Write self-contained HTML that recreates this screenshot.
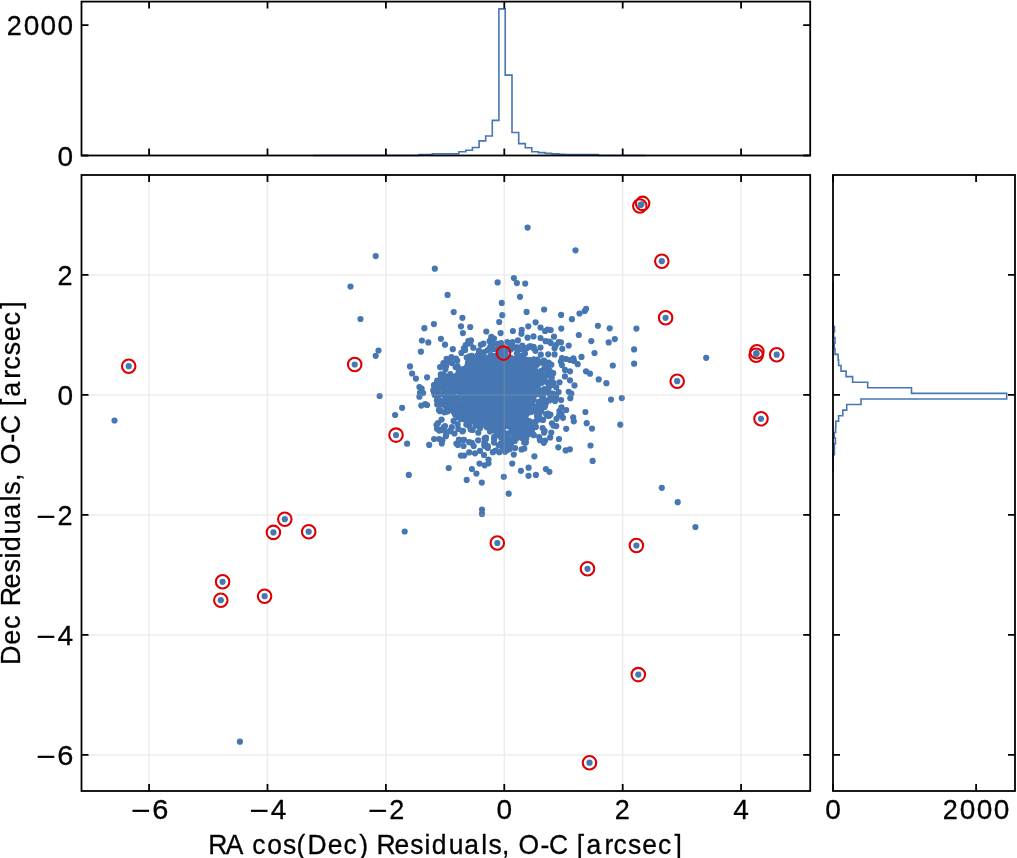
<!DOCTYPE html><html><head><meta charset="utf-8"><style>html,body{margin:0;padding:0;background:#fff;}body{width:1017px;height:858px;overflow:hidden;}</style></head><body><svg width="1017" height="858" viewBox="0 0 1017 858" style="display:block;font-family:'Liberation Sans', sans-serif">
<rect width="1017" height="858" fill="#fff"/>
<g fill="#4677b2"><circle cx="453.5" cy="395.9" r="3.1"/><circle cx="511.7" cy="429.7" r="3.1"/><circle cx="433.3" cy="390.2" r="3.1"/><circle cx="539.1" cy="419.4" r="3.1"/><circle cx="540.0" cy="380.9" r="3.1"/><circle cx="548.3" cy="390.9" r="3.1"/><circle cx="438.9" cy="410.0" r="3.1"/><circle cx="440.8" cy="374.4" r="3.1"/><circle cx="446.5" cy="411.7" r="3.1"/><circle cx="444.6" cy="385.0" r="3.1"/><circle cx="456.9" cy="381.8" r="3.1"/><circle cx="541.0" cy="411.5" r="3.1"/><circle cx="441.2" cy="404.4" r="3.1"/><circle cx="461.1" cy="406.7" r="3.1"/><circle cx="504.4" cy="438.5" r="3.1"/><circle cx="544.6" cy="406.9" r="3.1"/><circle cx="460.5" cy="419.0" r="3.1"/><circle cx="502.5" cy="436.8" r="3.1"/><circle cx="452.4" cy="378.8" r="3.1"/><circle cx="504.1" cy="350.3" r="3.1"/><circle cx="439.2" cy="400.0" r="3.1"/><circle cx="525.7" cy="442.5" r="3.1"/><circle cx="525.7" cy="418.9" r="3.1"/><circle cx="542.2" cy="403.2" r="3.1"/><circle cx="439.9" cy="411.2" r="3.1"/><circle cx="509.7" cy="445.0" r="3.1"/><circle cx="468.7" cy="415.9" r="3.1"/><circle cx="547.7" cy="413.7" r="3.1"/><circle cx="455.3" cy="386.2" r="3.1"/><circle cx="544.4" cy="380.6" r="3.1"/><circle cx="447.2" cy="394.1" r="3.1"/><circle cx="457.4" cy="384.2" r="3.1"/><circle cx="537.8" cy="363.0" r="3.1"/><circle cx="518.8" cy="358.4" r="3.1"/><circle cx="491.5" cy="355.9" r="3.1"/><circle cx="446.4" cy="388.9" r="3.1"/><circle cx="511.1" cy="443.7" r="3.1"/><circle cx="523.7" cy="432.7" r="3.1"/><circle cx="499.5" cy="429.4" r="3.1"/><circle cx="541.2" cy="376.3" r="3.1"/><circle cx="440.2" cy="387.4" r="3.1"/><circle cx="501.3" cy="426.7" r="3.1"/><circle cx="539.1" cy="417.2" r="3.1"/><circle cx="552.9" cy="393.6" r="3.1"/><circle cx="458.3" cy="397.7" r="3.1"/><circle cx="539.6" cy="401.7" r="3.1"/><circle cx="555.9" cy="397.4" r="3.1"/><circle cx="504.2" cy="358.6" r="3.1"/><circle cx="556.0" cy="396.4" r="3.1"/><circle cx="446.0" cy="386.5" r="3.1"/><circle cx="454.4" cy="408.6" r="3.1"/><circle cx="445.4" cy="395.8" r="3.1"/><circle cx="498.5" cy="353.7" r="3.1"/><circle cx="456.1" cy="410.3" r="3.1"/><circle cx="540.6" cy="407.9" r="3.1"/><circle cx="541.3" cy="362.4" r="3.1"/><circle cx="526.1" cy="431.8" r="3.1"/><circle cx="547.3" cy="372.4" r="3.1"/><circle cx="538.1" cy="385.1" r="3.1"/><circle cx="503.7" cy="352.1" r="3.1"/><circle cx="489.7" cy="426.3" r="3.1"/><circle cx="521.0" cy="435.8" r="3.1"/><circle cx="453.1" cy="389.0" r="3.1"/><circle cx="521.4" cy="437.8" r="3.1"/><circle cx="526.6" cy="427.9" r="3.1"/><circle cx="535.8" cy="383.2" r="3.1"/><circle cx="520.1" cy="426.6" r="3.1"/><circle cx="521.0" cy="425.9" r="3.1"/><circle cx="450.3" cy="391.1" r="3.1"/><circle cx="451.5" cy="394.0" r="3.1"/><circle cx="552.9" cy="385.0" r="3.1"/><circle cx="466.4" cy="420.5" r="3.1"/><circle cx="508.2" cy="348.3" r="3.1"/><circle cx="498.4" cy="349.4" r="3.1"/><circle cx="531.8" cy="409.5" r="3.1"/><circle cx="510.8" cy="346.8" r="3.1"/><circle cx="456.9" cy="375.7" r="3.1"/><circle cx="526.7" cy="435.1" r="3.1"/><circle cx="535.1" cy="409.3" r="3.1"/><circle cx="529.8" cy="360.1" r="3.1"/><circle cx="535.2" cy="378.8" r="3.1"/><circle cx="457.3" cy="414.0" r="3.1"/><circle cx="524.1" cy="417.8" r="3.1"/><circle cx="476.1" cy="421.6" r="3.1"/><circle cx="548.7" cy="387.1" r="3.1"/><circle cx="461.8" cy="377.9" r="3.1"/><circle cx="454.9" cy="402.2" r="3.1"/><circle cx="533.5" cy="399.4" r="3.1"/><circle cx="538.6" cy="402.0" r="3.1"/><circle cx="544.4" cy="368.3" r="3.1"/><circle cx="500.8" cy="429.1" r="3.1"/><circle cx="525.7" cy="442.4" r="3.1"/><circle cx="440.5" cy="410.6" r="3.1"/><circle cx="497.5" cy="426.3" r="3.1"/><circle cx="523.6" cy="419.5" r="3.1"/><circle cx="548.9" cy="383.8" r="3.1"/><circle cx="537.3" cy="414.5" r="3.1"/><circle cx="484.3" cy="352.0" r="3.1"/><circle cx="478.4" cy="354.6" r="3.1"/><circle cx="456.1" cy="385.5" r="3.1"/><circle cx="444.4" cy="412.3" r="3.1"/><circle cx="437.5" cy="389.6" r="3.1"/><circle cx="505.7" cy="443.6" r="3.1"/><circle cx="536.1" cy="392.0" r="3.1"/><circle cx="548.8" cy="375.5" r="3.1"/><circle cx="542.9" cy="396.4" r="3.1"/><circle cx="541.4" cy="370.9" r="3.1"/><circle cx="537.3" cy="359.5" r="3.1"/><circle cx="443.2" cy="381.8" r="3.1"/><circle cx="537.8" cy="413.0" r="3.1"/><circle cx="533.8" cy="359.3" r="3.1"/><circle cx="452.9" cy="382.8" r="3.1"/><circle cx="538.7" cy="405.6" r="3.1"/><circle cx="549.6" cy="385.7" r="3.1"/><circle cx="529.6" cy="433.0" r="3.1"/><circle cx="443.3" cy="379.8" r="3.1"/><circle cx="495.9" cy="429.1" r="3.1"/><circle cx="537.2" cy="407.9" r="3.1"/><circle cx="547.3" cy="400.3" r="3.1"/><circle cx="522.8" cy="434.8" r="3.1"/><circle cx="511.3" cy="358.2" r="3.1"/><circle cx="536.2" cy="406.7" r="3.1"/><circle cx="460.9" cy="403.3" r="3.1"/><circle cx="455.5" cy="390.7" r="3.1"/><circle cx="448.1" cy="380.9" r="3.1"/><circle cx="503.8" cy="355.3" r="3.1"/><circle cx="528.4" cy="424.7" r="3.1"/><circle cx="503.3" cy="443.1" r="3.1"/><circle cx="524.2" cy="442.5" r="3.1"/><circle cx="445.7" cy="388.1" r="3.1"/><circle cx="516.3" cy="438.5" r="3.1"/><circle cx="503.4" cy="442.9" r="3.1"/><circle cx="445.6" cy="399.0" r="3.1"/><circle cx="461.3" cy="370.4" r="3.1"/><circle cx="538.8" cy="377.0" r="3.1"/><circle cx="491.1" cy="355.1" r="3.1"/><circle cx="455.8" cy="410.4" r="3.1"/><circle cx="458.6" cy="371.4" r="3.1"/><circle cx="522.2" cy="358.1" r="3.1"/><circle cx="516.2" cy="429.4" r="3.1"/><circle cx="544.9" cy="405.3" r="3.1"/><circle cx="459.3" cy="370.6" r="3.1"/><circle cx="550.4" cy="414.5" r="3.1"/><circle cx="465.6" cy="411.3" r="3.1"/><circle cx="494.7" cy="356.1" r="3.1"/><circle cx="486.9" cy="427.3" r="3.1"/><circle cx="532.1" cy="429.4" r="3.1"/><circle cx="460.2" cy="393.2" r="3.1"/><circle cx="458.3" cy="404.1" r="3.1"/><circle cx="504.2" cy="439.2" r="3.1"/><circle cx="532.8" cy="363.1" r="3.1"/><circle cx="464.0" cy="405.1" r="3.1"/><circle cx="437.4" cy="383.8" r="3.1"/><circle cx="493.3" cy="425.9" r="3.1"/><circle cx="529.1" cy="422.6" r="3.1"/><circle cx="542.3" cy="405.4" r="3.1"/><circle cx="545.2" cy="390.0" r="3.1"/><circle cx="457.5" cy="376.2" r="3.1"/><circle cx="453.4" cy="400.4" r="3.1"/><circle cx="457.4" cy="390.6" r="3.1"/><circle cx="551.7" cy="377.7" r="3.1"/><circle cx="529.4" cy="421.3" r="3.1"/><circle cx="500.4" cy="350.8" r="3.1"/><circle cx="466.0" cy="420.0" r="3.1"/><circle cx="542.5" cy="361.6" r="3.1"/><circle cx="503.3" cy="431.6" r="3.1"/><circle cx="457.6" cy="417.2" r="3.1"/><circle cx="542.8" cy="362.7" r="3.1"/><circle cx="512.0" cy="345.3" r="3.1"/><circle cx="437.2" cy="380.5" r="3.1"/><circle cx="449.1" cy="404.4" r="3.1"/><circle cx="437.6" cy="383.0" r="3.1"/><circle cx="436.5" cy="394.0" r="3.1"/><circle cx="545.9" cy="402.4" r="3.1"/><circle cx="463.6" cy="414.7" r="3.1"/><circle cx="453.7" cy="390.8" r="3.1"/><circle cx="509.8" cy="449.1" r="3.1"/><circle cx="544.3" cy="380.3" r="3.1"/><circle cx="447.1" cy="395.3" r="3.1"/><circle cx="502.6" cy="434.2" r="3.1"/><circle cx="470.3" cy="420.4" r="3.1"/><circle cx="450.2" cy="409.1" r="3.1"/><circle cx="471.8" cy="355.8" r="3.1"/><circle cx="496.5" cy="349.6" r="3.1"/><circle cx="444.1" cy="388.7" r="3.1"/><circle cx="445.8" cy="379.7" r="3.1"/><circle cx="505.9" cy="447.4" r="3.1"/><circle cx="533.9" cy="435.1" r="3.1"/><circle cx="510.1" cy="426.3" r="3.1"/><circle cx="551.3" cy="364.7" r="3.1"/><circle cx="493.2" cy="348.9" r="3.1"/><circle cx="503.3" cy="351.7" r="3.1"/><circle cx="459.1" cy="392.4" r="3.1"/><circle cx="546.0" cy="371.6" r="3.1"/><circle cx="436.9" cy="400.6" r="3.1"/><circle cx="476.3" cy="424.9" r="3.1"/><circle cx="498.3" cy="431.7" r="3.1"/><circle cx="532.9" cy="422.7" r="3.1"/><circle cx="553.5" cy="382.8" r="3.1"/><circle cx="515.2" cy="431.8" r="3.1"/><circle cx="547.6" cy="373.1" r="3.1"/><circle cx="441.7" cy="374.7" r="3.1"/><circle cx="526.3" cy="359.9" r="3.1"/><circle cx="518.2" cy="355.8" r="3.1"/><circle cx="458.1" cy="383.5" r="3.1"/><circle cx="521.6" cy="355.8" r="3.1"/><circle cx="465.1" cy="415.8" r="3.1"/><circle cx="553.2" cy="373.2" r="3.1"/><circle cx="453.4" cy="377.4" r="3.1"/><circle cx="509.9" cy="441.0" r="3.1"/><circle cx="541.2" cy="409.9" r="3.1"/><circle cx="539.1" cy="412.4" r="3.1"/><circle cx="543.0" cy="419.9" r="3.1"/><circle cx="465.9" cy="411.7" r="3.1"/><circle cx="439.0" cy="401.1" r="3.1"/><circle cx="501.1" cy="443.2" r="3.1"/><circle cx="510.0" cy="442.7" r="3.1"/><circle cx="456.4" cy="410.0" r="3.1"/><circle cx="455.1" cy="414.7" r="3.1"/><circle cx="476.1" cy="358.0" r="3.1"/><circle cx="448.5" cy="410.2" r="3.1"/><circle cx="460.1" cy="404.0" r="3.1"/><circle cx="551.3" cy="381.0" r="3.1"/><circle cx="467.7" cy="417.9" r="3.1"/><circle cx="546.3" cy="364.7" r="3.1"/><circle cx="440.9" cy="378.1" r="3.1"/><circle cx="537.6" cy="412.5" r="3.1"/><circle cx="438.1" cy="390.0" r="3.1"/><circle cx="456.8" cy="378.9" r="3.1"/><circle cx="448.1" cy="381.9" r="3.1"/><circle cx="524.9" cy="427.6" r="3.1"/><circle cx="445.0" cy="390.7" r="3.1"/><circle cx="445.7" cy="402.6" r="3.1"/><circle cx="457.8" cy="388.7" r="3.1"/><circle cx="556.1" cy="397.5" r="3.1"/><circle cx="525.3" cy="420.0" r="3.1"/><circle cx="449.8" cy="398.2" r="3.1"/><circle cx="513.4" cy="436.2" r="3.1"/><circle cx="435.4" cy="384.4" r="3.1"/><circle cx="514.8" cy="440.9" r="3.1"/><circle cx="437.5" cy="397.8" r="3.1"/><circle cx="506.9" cy="449.8" r="3.1"/><circle cx="541.7" cy="382.8" r="3.1"/><circle cx="466.7" cy="416.1" r="3.1"/><circle cx="538.0" cy="373.9" r="3.1"/><circle cx="532.4" cy="411.6" r="3.1"/><circle cx="501.5" cy="445.8" r="3.1"/><circle cx="502.6" cy="445.2" r="3.1"/><circle cx="457.0" cy="384.3" r="3.1"/><circle cx="499.4" cy="435.2" r="3.1"/><circle cx="480.1" cy="427.9" r="3.1"/><circle cx="451.1" cy="404.8" r="3.1"/><circle cx="455.8" cy="376.1" r="3.1"/><circle cx="450.8" cy="376.5" r="3.1"/><circle cx="539.4" cy="377.5" r="3.1"/><circle cx="548.2" cy="389.2" r="3.1"/><circle cx="531.8" cy="360.7" r="3.1"/><circle cx="455.4" cy="398.7" r="3.1"/><circle cx="509.0" cy="349.0" r="3.1"/><circle cx="467.7" cy="364.8" r="3.1"/><circle cx="446.6" cy="392.7" r="3.1"/><circle cx="465.0" cy="368.7" r="3.1"/><circle cx="459.9" cy="388.8" r="3.1"/><circle cx="552.6" cy="395.2" r="3.1"/><circle cx="503.2" cy="348.9" r="3.1"/><circle cx="497.5" cy="343.8" r="3.1"/><circle cx="498.2" cy="356.6" r="3.1"/><circle cx="494.6" cy="358.2" r="3.1"/><circle cx="492.9" cy="343.9" r="3.1"/><circle cx="537.8" cy="417.1" r="3.1"/><circle cx="528.3" cy="431.4" r="3.1"/><circle cx="538.2" cy="383.4" r="3.1"/><circle cx="463.7" cy="404.8" r="3.1"/><circle cx="460.5" cy="413.0" r="3.1"/><circle cx="532.5" cy="428.4" r="3.1"/><circle cx="469.5" cy="356.4" r="3.1"/><circle cx="445.4" cy="397.7" r="3.1"/><circle cx="550.1" cy="395.0" r="3.1"/><circle cx="450.3" cy="374.2" r="3.1"/><circle cx="539.9" cy="390.3" r="3.1"/><circle cx="490.1" cy="356.4" r="3.1"/><circle cx="544.8" cy="404.2" r="3.1"/><circle cx="548.7" cy="362.5" r="3.1"/><circle cx="505.6" cy="353.4" r="3.1"/><circle cx="441.1" cy="394.2" r="3.1"/><circle cx="533.9" cy="362.6" r="3.1"/><circle cx="518.9" cy="430.2" r="3.1"/><circle cx="522.3" cy="431.7" r="3.1"/><circle cx="535.8" cy="370.9" r="3.1"/><circle cx="509.1" cy="443.8" r="3.1"/><circle cx="543.2" cy="371.8" r="3.1"/><circle cx="510.7" cy="349.5" r="3.1"/><circle cx="503.7" cy="447.7" r="3.1"/><circle cx="533.3" cy="361.9" r="3.1"/><circle cx="514.8" cy="427.5" r="3.1"/><circle cx="453.9" cy="412.2" r="3.1"/><circle cx="548.4" cy="369.4" r="3.1"/><circle cx="455.4" cy="404.2" r="3.1"/><circle cx="460.9" cy="373.8" r="3.1"/><circle cx="460.1" cy="391.4" r="3.1"/><circle cx="547.3" cy="364.6" r="3.1"/><circle cx="498.3" cy="357.2" r="3.1"/><circle cx="449.0" cy="400.7" r="3.1"/><circle cx="529.6" cy="412.2" r="3.1"/><circle cx="446.1" cy="385.6" r="3.1"/><circle cx="438.9" cy="381.4" r="3.1"/><circle cx="490.6" cy="347.2" r="3.1"/><circle cx="544.3" cy="389.1" r="3.1"/><circle cx="437.2" cy="404.5" r="3.1"/><circle cx="522.4" cy="425.9" r="3.1"/><circle cx="462.3" cy="419.1" r="3.1"/><circle cx="451.2" cy="409.6" r="3.1"/><circle cx="546.1" cy="414.1" r="3.1"/><circle cx="475.5" cy="425.6" r="3.1"/><circle cx="537.6" cy="380.1" r="3.1"/><circle cx="533.1" cy="423.2" r="3.1"/><circle cx="544.1" cy="360.7" r="3.1"/><circle cx="458.5" cy="408.9" r="3.1"/><circle cx="548.9" cy="415.7" r="3.1"/><circle cx="451.8" cy="377.1" r="3.1"/><circle cx="459.0" cy="378.2" r="3.1"/><circle cx="507.8" cy="438.0" r="3.1"/><circle cx="461.9" cy="369.6" r="3.1"/><circle cx="539.9" cy="390.8" r="3.1"/><circle cx="533.4" cy="408.9" r="3.1"/><circle cx="466.7" cy="357.5" r="3.1"/><circle cx="542.0" cy="396.5" r="3.1"/><circle cx="448.8" cy="381.2" r="3.1"/><circle cx="512.9" cy="347.8" r="3.1"/><circle cx="502.9" cy="447.2" r="3.1"/><circle cx="486.3" cy="426.0" r="3.1"/><circle cx="452.0" cy="390.2" r="3.1"/><circle cx="547.0" cy="415.4" r="3.1"/><circle cx="457.7" cy="388.1" r="3.1"/><circle cx="502.4" cy="346.7" r="3.1"/><circle cx="535.8" cy="421.4" r="3.1"/><circle cx="537.0" cy="364.8" r="3.1"/><circle cx="522.8" cy="356.7" r="3.1"/><circle cx="549.2" cy="415.4" r="3.1"/><circle cx="460.4" cy="369.3" r="3.1"/><circle cx="539.7" cy="418.6" r="3.1"/><circle cx="437.1" cy="393.5" r="3.1"/><circle cx="506.8" cy="444.3" r="3.1"/><circle cx="453.0" cy="394.5" r="3.1"/><circle cx="494.7" cy="426.4" r="3.1"/><circle cx="528.8" cy="421.2" r="3.1"/><circle cx="543.9" cy="380.2" r="3.1"/><circle cx="539.9" cy="406.7" r="3.1"/><circle cx="455.6" cy="411.3" r="3.1"/><circle cx="448.9" cy="402.7" r="3.1"/><circle cx="491.3" cy="339.3" r="3.1"/><circle cx="509.7" cy="357.7" r="3.1"/><circle cx="545.3" cy="405.0" r="3.1"/><circle cx="527.4" cy="428.6" r="3.1"/><circle cx="453.7" cy="381.7" r="3.1"/><circle cx="526.1" cy="438.4" r="3.1"/><circle cx="504.8" cy="441.3" r="3.1"/><circle cx="448.2" cy="382.9" r="3.1"/><circle cx="503.1" cy="350.3" r="3.1"/><circle cx="454.4" cy="388.2" r="3.1"/><circle cx="520.0" cy="357.3" r="3.1"/><circle cx="455.9" cy="408.5" r="3.1"/><circle cx="483.5" cy="356.5" r="3.1"/><circle cx="434.1" cy="389.6" r="3.1"/><circle cx="537.1" cy="416.6" r="3.1"/><circle cx="500.9" cy="437.2" r="3.1"/><circle cx="498.8" cy="349.9" r="3.1"/><circle cx="508.2" cy="433.4" r="3.1"/><circle cx="544.9" cy="401.0" r="3.1"/><circle cx="505.4" cy="438.1" r="3.1"/><circle cx="463.8" cy="406.7" r="3.1"/><circle cx="495.4" cy="431.0" r="3.1"/><circle cx="448.9" cy="385.3" r="3.1"/><circle cx="508.0" cy="426.1" r="3.1"/><circle cx="545.1" cy="392.5" r="3.1"/><circle cx="457.3" cy="388.0" r="3.1"/><circle cx="551.6" cy="374.7" r="3.1"/><circle cx="456.6" cy="411.7" r="3.1"/><circle cx="471.2" cy="421.4" r="3.1"/><circle cx="434.7" cy="395.0" r="3.1"/><circle cx="447.7" cy="400.1" r="3.1"/><circle cx="461.9" cy="400.7" r="3.1"/><circle cx="526.5" cy="425.6" r="3.1"/><circle cx="489.9" cy="348.7" r="3.1"/><circle cx="537.3" cy="394.1" r="3.1"/><circle cx="477.6" cy="355.6" r="3.1"/><circle cx="517.7" cy="435.7" r="3.1"/><circle cx="462.2" cy="372.3" r="3.1"/><circle cx="549.7" cy="370.8" r="3.1"/><circle cx="448.0" cy="411.1" r="3.1"/><circle cx="512.8" cy="430.8" r="3.1"/><circle cx="472.0" cy="357.5" r="3.1"/><circle cx="532.9" cy="406.9" r="3.1"/><circle cx="433.9" cy="385.0" r="3.1"/><circle cx="542.8" cy="403.4" r="3.1"/><circle cx="441.2" cy="401.4" r="3.1"/><circle cx="483.0" cy="353.3" r="3.1"/><circle cx="528.4" cy="412.0" r="3.1"/><circle cx="491.2" cy="427.8" r="3.1"/><circle cx="516.8" cy="353.5" r="3.1"/><circle cx="532.4" cy="433.5" r="3.1"/><circle cx="517.6" cy="347.3" r="3.1"/><circle cx="538.5" cy="380.1" r="3.1"/><circle cx="528.1" cy="432.7" r="3.1"/><circle cx="548.2" cy="391.4" r="3.1"/><circle cx="446.1" cy="376.8" r="3.1"/><circle cx="460.9" cy="412.3" r="3.1"/><circle cx="523.4" cy="427.6" r="3.1"/><circle cx="503.4" cy="351.9" r="3.1"/><circle cx="439.8" cy="385.6" r="3.1"/><circle cx="447.3" cy="405.3" r="3.1"/><circle cx="539.0" cy="380.3" r="3.1"/><circle cx="529.8" cy="422.9" r="3.1"/><circle cx="507.9" cy="449.6" r="3.1"/><circle cx="539.0" cy="416.2" r="3.1"/><circle cx="542.4" cy="395.7" r="3.1"/><circle cx="544.2" cy="377.7" r="3.1"/><circle cx="532.9" cy="434.8" r="3.1"/><circle cx="498.0" cy="432.8" r="3.1"/><circle cx="507.5" cy="443.5" r="3.1"/><circle cx="435.9" cy="391.5" r="3.1"/><circle cx="450.9" cy="402.1" r="3.1"/><circle cx="525.2" cy="440.0" r="3.1"/><circle cx="551.5" cy="397.8" r="3.1"/><circle cx="433.8" cy="392.0" r="3.1"/><circle cx="445.6" cy="388.0" r="3.1"/><circle cx="465.1" cy="415.2" r="3.1"/><circle cx="443.7" cy="374.5" r="3.1"/><circle cx="526.9" cy="426.6" r="3.1"/><circle cx="525.0" cy="434.8" r="3.1"/><circle cx="456.2" cy="388.6" r="3.1"/><circle cx="548.6" cy="415.7" r="3.1"/><circle cx="542.1" cy="408.0" r="3.1"/><circle cx="537.9" cy="409.5" r="3.1"/><circle cx="546.6" cy="382.1" r="3.1"/><circle cx="445.6" cy="406.3" r="3.1"/><circle cx="454.9" cy="398.2" r="3.1"/><circle cx="535.9" cy="426.9" r="3.1"/><circle cx="527.1" cy="435.3" r="3.1"/><circle cx="450.0" cy="402.6" r="3.1"/><circle cx="441.1" cy="404.3" r="3.1"/><circle cx="536.3" cy="394.1" r="3.1"/><circle cx="518.0" cy="348.5" r="3.1"/><circle cx="523.6" cy="418.7" r="3.1"/><circle cx="477.3" cy="357.3" r="3.1"/><circle cx="498.9" cy="346.8" r="3.1"/><circle cx="519.1" cy="434.5" r="3.1"/><circle cx="485.9" cy="437.6" r="3.1"/><circle cx="458.9" cy="439.7" r="3.1"/><circle cx="445.0" cy="426.1" r="3.1"/><circle cx="540.0" cy="440.2" r="3.1"/><circle cx="440.1" cy="367.1" r="3.1"/><circle cx="492.9" cy="452.2" r="3.1"/><circle cx="545.1" cy="440.6" r="3.1"/><circle cx="540.8" cy="354.7" r="3.1"/><circle cx="484.3" cy="445.8" r="3.1"/><circle cx="542.6" cy="428.0" r="3.1"/><circle cx="480.8" cy="344.8" r="3.1"/><circle cx="483.4" cy="343.7" r="3.1"/><circle cx="443.4" cy="363.2" r="3.1"/><circle cx="484.4" cy="442.7" r="3.1"/><circle cx="561.5" cy="407.3" r="3.1"/><circle cx="463.0" cy="430.8" r="3.1"/><circle cx="521.6" cy="449.4" r="3.1"/><circle cx="440.8" cy="430.2" r="3.1"/><circle cx="484.8" cy="443.0" r="3.1"/><circle cx="446.2" cy="435.0" r="3.1"/><circle cx="461.4" cy="352.9" r="3.1"/><circle cx="451.8" cy="427.2" r="3.1"/><circle cx="473.3" cy="347.7" r="3.1"/><circle cx="526.7" cy="348.3" r="3.1"/><circle cx="556.2" cy="387.3" r="3.1"/><circle cx="485.8" cy="446.3" r="3.1"/><circle cx="539.2" cy="437.1" r="3.1"/><circle cx="457.7" cy="424.3" r="3.1"/><circle cx="457.9" cy="444.9" r="3.1"/><circle cx="494.0" cy="442.6" r="3.1"/><circle cx="556.5" cy="418.8" r="3.1"/><circle cx="558.6" cy="392.1" r="3.1"/><circle cx="453.6" cy="420.9" r="3.1"/><circle cx="448.9" cy="361.4" r="3.1"/><circle cx="441.6" cy="419.6" r="3.1"/><circle cx="484.7" cy="438.7" r="3.1"/><circle cx="478.3" cy="432.7" r="3.1"/><circle cx="457.5" cy="366.2" r="3.1"/><circle cx="530.7" cy="346.3" r="3.1"/><circle cx="454.5" cy="433.5" r="3.1"/><circle cx="544.1" cy="432.6" r="3.1"/><circle cx="455.5" cy="367.0" r="3.1"/><circle cx="524.3" cy="448.5" r="3.1"/><circle cx="543.5" cy="441.2" r="3.1"/><circle cx="494.1" cy="438.9" r="3.1"/><circle cx="450.4" cy="431.2" r="3.1"/><circle cx="480.0" cy="450.8" r="3.1"/><circle cx="471.8" cy="442.8" r="3.1"/><circle cx="522.3" cy="349.5" r="3.1"/><circle cx="529.6" cy="346.3" r="3.1"/><circle cx="551.9" cy="423.3" r="3.1"/><circle cx="559.5" cy="382.3" r="3.1"/><circle cx="469.0" cy="425.7" r="3.1"/><circle cx="465.2" cy="350.0" r="3.1"/><circle cx="533.5" cy="346.8" r="3.1"/><circle cx="478.1" cy="440.3" r="3.1"/><circle cx="561.1" cy="400.0" r="3.1"/><circle cx="527.2" cy="347.8" r="3.1"/><circle cx="559.1" cy="415.4" r="3.1"/><circle cx="437.0" cy="428.7" r="3.1"/><circle cx="445.8" cy="436.2" r="3.1"/><circle cx="525.0" cy="353.5" r="3.1"/><circle cx="445.4" cy="369.3" r="3.1"/><circle cx="443.6" cy="427.3" r="3.1"/><circle cx="544.6" cy="430.8" r="3.1"/><circle cx="533.8" cy="348.1" r="3.1"/><circle cx="452.0" cy="363.0" r="3.1"/><circle cx="464.1" cy="439.8" r="3.1"/><circle cx="458.3" cy="428.9" r="3.1"/><circle cx="499.3" cy="452.2" r="3.1"/><circle cx="445.4" cy="365.2" r="3.1"/><circle cx="550.2" cy="437.4" r="3.1"/><circle cx="548.2" cy="354.3" r="3.1"/><circle cx="494.6" cy="436.7" r="3.1"/><circle cx="472.6" cy="429.9" r="3.1"/><circle cx="436.5" cy="425.0" r="3.1"/><circle cx="556.3" cy="426.1" r="3.1"/><circle cx="466.3" cy="424.5" r="3.1"/><circle cx="484.9" cy="438.3" r="3.1"/><circle cx="451.4" cy="357.0" r="3.1"/><circle cx="553.4" cy="425.6" r="3.1"/><circle cx="375.7" cy="256.1" r="3.1"/><circle cx="350.5" cy="286.5" r="3.1"/><circle cx="360.5" cy="319.0" r="3.1"/><circle cx="378.5" cy="350.5" r="3.1"/><circle cx="375.7" cy="355.8" r="3.1"/><circle cx="379.6" cy="396.0" r="3.1"/><circle cx="114.5" cy="420.5" r="3.1"/><circle cx="239.9" cy="741.7" r="3.1"/><circle cx="706.2" cy="357.8" r="3.1"/><circle cx="636.4" cy="328.6" r="3.1"/><circle cx="634.1" cy="349.4" r="3.1"/><circle cx="634.1" cy="363.7" r="3.1"/><circle cx="597.9" cy="325.8" r="3.1"/><circle cx="609.7" cy="328.3" r="3.1"/><circle cx="614.8" cy="339.1" r="3.1"/><circle cx="608.7" cy="342.4" r="3.1"/><circle cx="591.3" cy="341.1" r="3.1"/><circle cx="594.5" cy="353.0" r="3.1"/><circle cx="612.8" cy="365.5" r="3.1"/><circle cx="590.0" cy="373.7" r="3.1"/><circle cx="598.7" cy="379.4" r="3.1"/><circle cx="606.4" cy="383.2" r="3.1"/><circle cx="611.0" cy="399.6" r="3.1"/><circle cx="621.8" cy="398.1" r="3.1"/><circle cx="620.3" cy="424.7" r="3.1"/><circle cx="592.0" cy="428.6" r="3.1"/><circle cx="590.5" cy="445.5" r="3.1"/><circle cx="592.6" cy="460.9" r="3.1"/><circle cx="661.8" cy="487.8" r="3.1"/><circle cx="677.7" cy="502.2" r="3.1"/><circle cx="695.4" cy="527.0" r="3.1"/><circle cx="404.7" cy="531.5" r="3.1"/><circle cx="482.0" cy="509.5" r="3.1"/><circle cx="482.0" cy="513.9" r="3.1"/><circle cx="527.6" cy="227.6" r="3.1"/><circle cx="575.5" cy="250.3" r="3.1"/><circle cx="434.8" cy="268.7" r="3.1"/><circle cx="497.6" cy="282.4" r="3.1"/><circle cx="513.9" cy="278.1" r="3.1"/><circle cx="516.9" cy="283.1" r="3.1"/><circle cx="525.2" cy="283.6" r="3.1"/><circle cx="520.0" cy="296.8" r="3.1"/><circle cx="447.6" cy="294.9" r="3.1"/><circle cx="501.8" cy="302.9" r="3.1"/><circle cx="453.7" cy="312.1" r="3.1"/><circle cx="462.4" cy="317.8" r="3.1"/><circle cx="502.3" cy="315.2" r="3.1"/><circle cx="526.6" cy="311.9" r="3.1"/><circle cx="544.1" cy="309.5" r="3.1"/><circle cx="561.1" cy="314.9" r="3.1"/><circle cx="571.9" cy="319.2" r="3.1"/><circle cx="579.5" cy="313.5" r="3.1"/><circle cx="584.7" cy="311.0" r="3.1"/><circle cx="586.1" cy="308.8" r="3.1"/><circle cx="433.9" cy="324.1" r="3.1"/><circle cx="424.4" cy="328.2" r="3.1"/><circle cx="461.0" cy="326.3" r="3.1"/><circle cx="470.2" cy="327.0" r="3.1"/><circle cx="499.2" cy="322.0" r="3.1"/><circle cx="528.3" cy="326.3" r="3.1"/><circle cx="535.6" cy="322.3" r="3.1"/><circle cx="540.5" cy="327.5" r="3.1"/><circle cx="547.6" cy="329.6" r="3.1"/><circle cx="550.7" cy="330.0" r="3.1"/><circle cx="561.3" cy="328.6" r="3.1"/><circle cx="512.9" cy="331.0" r="3.1"/><circle cx="521.7" cy="329.8" r="3.1"/><circle cx="486.3" cy="331.5" r="3.1"/><circle cx="462.9" cy="333.1" r="3.1"/><circle cx="500.6" cy="333.1" r="3.1"/><circle cx="402.1" cy="407.8" r="3.1"/><circle cx="395.1" cy="415.0" r="3.1"/><circle cx="407.1" cy="443.7" r="3.1"/><circle cx="429.2" cy="444.9" r="3.1"/><circle cx="408.8" cy="474.9" r="3.1"/><circle cx="448.7" cy="468.0" r="3.1"/><circle cx="466.7" cy="479.9" r="3.1"/><circle cx="471.9" cy="469.0" r="3.1"/><circle cx="476.4" cy="473.6" r="3.1"/><circle cx="421.3" cy="405.6" r="3.1"/><circle cx="427.1" cy="405.0" r="3.1"/><circle cx="410.0" cy="366.4" r="3.1"/><circle cx="412.1" cy="373.5" r="3.1"/><circle cx="415.9" cy="378.6" r="3.1"/><circle cx="427.1" cy="377.3" r="3.1"/><circle cx="420.9" cy="351.7" r="3.1"/><circle cx="421.9" cy="340.5" r="3.1"/><circle cx="428.3" cy="342.4" r="3.1"/><circle cx="440.9" cy="338.8" r="3.1"/><circle cx="445.0" cy="344.7" r="3.1"/><circle cx="578.8" cy="335.0" r="3.1"/><circle cx="568.7" cy="345.6" r="3.1"/><circle cx="586.0" cy="371.3" r="3.1"/><circle cx="581.5" cy="356.9" r="3.1"/><circle cx="577.7" cy="364.2" r="3.1"/><circle cx="585.4" cy="412.0" r="3.1"/><circle cx="586.7" cy="423.2" r="3.1"/><circle cx="574.5" cy="385.4" r="3.1"/><circle cx="570.0" cy="380.3" r="3.1"/><circle cx="508.7" cy="493.7" r="3.1"/><circle cx="503.8" cy="476.8" r="3.1"/><circle cx="481.8" cy="482.6" r="3.1"/><circle cx="512.2" cy="463.6" r="3.1"/><circle cx="520.9" cy="470.8" r="3.1"/><circle cx="528.6" cy="467.7" r="3.1"/><circle cx="528.5" cy="475.8" r="3.1"/><circle cx="535.9" cy="474.9" r="3.1"/><circle cx="545.9" cy="469.1" r="3.1"/><circle cx="549.4" cy="471.8" r="3.1"/><circle cx="534.4" cy="456.3" r="3.1"/><circle cx="543.8" cy="442.8" r="3.1"/><circle cx="558.3" cy="447.3" r="3.1"/><circle cx="559.0" cy="439.0" r="3.1"/><circle cx="551.3" cy="432.6" r="3.1"/><circle cx="513.8" cy="454.6" r="3.1"/><circle cx="515.1" cy="448.0" r="3.1"/><circle cx="484.0" cy="455.0" r="3.1"/><circle cx="488.5" cy="459.5" r="3.1"/><circle cx="488.5" cy="463.3" r="3.1"/><circle cx="484.6" cy="465.3" r="3.1"/><circle cx="479.5" cy="463.6" r="3.1"/><circle cx="460.9" cy="455.6" r="3.1"/><circle cx="464.1" cy="455.6" r="3.1"/><circle cx="469.2" cy="452.4" r="3.1"/><circle cx="475.0" cy="453.3" r="3.1"/><circle cx="456.4" cy="443.5" r="3.1"/><circle cx="461.5" cy="440.3" r="3.1"/><circle cx="463.5" cy="446.0" r="3.1"/><circle cx="469.2" cy="442.2" r="3.1"/><circle cx="473.7" cy="446.0" r="3.1"/><circle cx="487.8" cy="446.0" r="3.1"/><circle cx="487.8" cy="448.0" r="3.1"/><circle cx="494.2" cy="437.7" r="3.1"/><circle cx="495.5" cy="450.5" r="3.1"/><circle cx="498.7" cy="445.4" r="3.1"/><circle cx="485.9" cy="439.0" r="3.1"/><circle cx="505.1" cy="451.8" r="3.1"/><circle cx="566.2" cy="410.0" r="3.1"/><circle cx="559.4" cy="411.0" r="3.1"/><circle cx="561.5" cy="413.6" r="3.1"/><circle cx="563.0" cy="417.8" r="3.1"/><circle cx="566.2" cy="428.8" r="3.1"/><circle cx="565.7" cy="450.4" r="3.1"/><circle cx="569.9" cy="449.3" r="3.1"/><circle cx="521.4" cy="333.7" r="3.1"/><circle cx="527.6" cy="337.7" r="3.1"/><circle cx="471.0" cy="340.4" r="3.1"/><circle cx="470.1" cy="343.5" r="3.1"/><circle cx="465.7" cy="345.2" r="3.1"/><circle cx="463.9" cy="348.3" r="3.1"/><circle cx="491.3" cy="336.8" r="3.1"/><circle cx="494.0" cy="338.6" r="3.1"/><circle cx="489.6" cy="341.2" r="3.1"/><circle cx="492.2" cy="343.9" r="3.1"/><circle cx="490.4" cy="346.5" r="3.1"/><circle cx="487.8" cy="350.1" r="3.1"/><circle cx="478.9" cy="350.5" r="3.1"/><circle cx="517.9" cy="340.4" r="3.1"/><circle cx="522.3" cy="345.7" r="3.1"/><circle cx="512.6" cy="342.1" r="3.1"/><circle cx="515.2" cy="347.4" r="3.1"/><circle cx="501.1" cy="343.0" r="3.1"/><circle cx="507.3" cy="342.1" r="3.1"/><circle cx="517.9" cy="350.1" r="3.1"/><circle cx="452.8" cy="349.2" r="3.1"/><circle cx="446.6" cy="358.9" r="3.1"/><circle cx="455.9" cy="358.5" r="3.1"/><circle cx="446.2" cy="366.0" r="3.1"/><circle cx="562.0" cy="358.0" r="3.1"/><circle cx="566.0" cy="359.0" r="3.1"/><circle cx="570.0" cy="360.0" r="3.1"/><circle cx="574.0" cy="361.0" r="3.1"/><circle cx="570.0" cy="371.3" r="3.1"/><circle cx="564.9" cy="376.4" r="3.1"/><circle cx="568.7" cy="391.8" r="3.1"/><circle cx="571.3" cy="393.7" r="3.1"/><circle cx="570.3" cy="398.2" r="3.1"/><circle cx="573.2" cy="417.4" r="3.1"/><circle cx="573.8" cy="421.3" r="3.1"/><circle cx="554.0" cy="336.7" r="3.1"/><circle cx="533.5" cy="336.4" r="3.1"/><circle cx="540.5" cy="338.0" r="3.1"/><circle cx="545.6" cy="341.2" r="3.1"/><circle cx="550.8" cy="343.1" r="3.1"/><circle cx="555.9" cy="345.0" r="3.1"/><circle cx="561.0" cy="342.4" r="3.1"/><circle cx="562.3" cy="348.8" r="3.1"/><circle cx="554.6" cy="348.2" r="3.1"/><circle cx="532.8" cy="347.6" r="3.1"/><circle cx="535.4" cy="350.8" r="3.1"/><circle cx="540.5" cy="347.6" r="3.1"/><circle cx="554.6" cy="354.4" r="3.1"/><circle cx="462.3" cy="431.3" r="3.1"/><circle cx="470.6" cy="429.4" r="3.1"/><circle cx="439.2" cy="430.6" r="3.1"/><circle cx="444.4" cy="430.6" r="3.1"/><circle cx="450.1" cy="430.9" r="3.1"/><circle cx="434.1" cy="439.0" r="3.1"/><circle cx="439.2" cy="439.0" r="3.1"/><circle cx="442.4" cy="440.3" r="3.1"/><circle cx="441.8" cy="443.5" r="3.1"/><circle cx="438.0" cy="423.0" r="3.1"/><circle cx="419.4" cy="387.0" r="3.1"/><circle cx="420.0" cy="392.8" r="3.1"/><circle cx="419.4" cy="396.7" r="3.1"/><circle cx="457.2" cy="360.6" r="3.1"/><circle cx="468.3" cy="341.0" r="3.1"/><circle cx="421.6" cy="388.7" r="3.1"/><circle cx="423.1" cy="393.0" r="3.1"/><circle cx="425.2" cy="404.2" r="3.1"/><circle cx="560.8" cy="361.5" r="3.1"/><circle cx="573.4" cy="358.3" r="3.1"/><circle cx="561.9" cy="365.1" r="3.1"/><circle cx="565.0" cy="369.9" r="3.1"/><circle cx="549.3" cy="341.5" r="3.1"/><circle cx="558.7" cy="342.1" r="3.1"/><circle cx="545.1" cy="331.0" r="3.1"/><circle cx="549.3" cy="400.5" r="3.1"/><circle cx="555.0" cy="401.0" r="3.1"/><circle cx="490.0" cy="431.5" r="3.1"/><circle cx="128.7" cy="366.2" r="3.1"/><circle cx="354.7" cy="364.5" r="3.1"/><circle cx="396.0" cy="435.1" r="3.1"/><circle cx="503.5" cy="353.1" r="3.1"/><circle cx="640.6" cy="205.0" r="3.1"/><circle cx="641.4" cy="204.3" r="3.1"/><circle cx="661.8" cy="261.2" r="3.1"/><circle cx="665.6" cy="317.8" r="3.1"/><circle cx="677.2" cy="381.2" r="3.1"/><circle cx="756.5" cy="353.2" r="3.1"/><circle cx="756.2" cy="354.0" r="3.1"/><circle cx="776.7" cy="354.7" r="3.1"/><circle cx="761.0" cy="418.8" r="3.1"/><circle cx="284.8" cy="519.2" r="3.1"/><circle cx="273.4" cy="532.4" r="3.1"/><circle cx="308.7" cy="531.7" r="3.1"/><circle cx="222.6" cy="581.8" r="3.1"/><circle cx="220.8" cy="600.2" r="3.1"/><circle cx="264.6" cy="596.2" r="3.1"/><circle cx="497.3" cy="543.0" r="3.1"/><circle cx="587.5" cy="568.8" r="3.1"/><circle cx="636.4" cy="545.5" r="3.1"/><circle cx="638.3" cy="674.6" r="3.1"/><circle cx="589.5" cy="762.7" r="3.1"/></g>
<path d="M465.0 361.3L465.0 363.6L465.0 363.9L464.9 364.2L464.9 364.5L464.8 364.7L464.6 365.0L464.5 365.3L464.3 365.5L464.1 365.7L463.9 365.9L463.7 366.1L462.8 366.6L460.9 373.6L459.0 388.1L460.0 401.3L464.6 413.5L471.9 422.6L480.9 427.1L491.5 428.5L491.6 428.5L491.9 428.6L491.9 428.6L495.2 429.0L509.6 429.0L522.2 425.4L529.4 415.4L535.1 404.0L537.0 394.6L538.0 380.0L537.0 365.7L534.1 359.2L533.9 359.1L526.6 357.3L519.7 356.0L500.0 356.0L499.9 356.0L480.1 355.0L467.8 356.8L465.0 361.3Z" fill="#4677b2"/>
<path d="M149.10 175.0V791.0M267.50 175.0V791.0M385.90 175.0V791.0M504.30 175.0V791.0M622.70 175.0V791.0M741.10 175.0V791.0M81.5 754.95H810.2M81.5 634.95H810.2M81.5 514.95H810.2M81.5 394.95H810.2M81.5 274.95H810.2" stroke="#b0b0b0" stroke-opacity="0.24" stroke-width="1.5" fill="none"/>
<g fill="none" stroke="#dd0000" stroke-width="2.1"><circle cx="128.7" cy="366.2" r="6.75"/><circle cx="354.7" cy="364.5" r="6.75"/><circle cx="396.0" cy="435.1" r="6.75"/><circle cx="503.5" cy="353.1" r="6.75"/><circle cx="639.8" cy="206.0" r="6.75"/><circle cx="642.6" cy="203.4" r="6.75"/><circle cx="661.8" cy="261.2" r="6.75"/><circle cx="665.6" cy="317.8" r="6.75"/><circle cx="677.2" cy="381.2" r="6.75"/><circle cx="756.9" cy="351.8" r="6.75"/><circle cx="756.1" cy="355.3" r="6.75"/><circle cx="776.7" cy="354.7" r="6.75"/><circle cx="761.0" cy="418.8" r="6.75"/><circle cx="284.8" cy="519.2" r="6.75"/><circle cx="273.4" cy="532.4" r="6.75"/><circle cx="308.7" cy="531.7" r="6.75"/><circle cx="222.6" cy="581.8" r="6.75"/><circle cx="220.8" cy="600.2" r="6.75"/><circle cx="264.6" cy="596.2" r="6.75"/><circle cx="497.3" cy="543.0" r="6.75"/><circle cx="587.5" cy="568.8" r="6.75"/><circle cx="636.4" cy="545.5" r="6.75"/><circle cx="638.3" cy="674.6" r="6.75"/><circle cx="589.5" cy="762.7" r="6.75"/></g>
<path d="M313.04 155.5L313.04 155.50L319.67 155.50L319.67 155.50L326.30 155.50L326.30 155.50L332.93 155.50L332.93 155.50L339.56 155.50L339.56 155.50L346.19 155.50L346.19 155.50L352.82 155.50L352.82 155.50L359.45 155.50L359.45 155.50L366.08 155.50L366.08 155.50L372.71 155.50L372.71 155.50L379.34 155.50L379.34 155.50L385.97 155.50L385.97 155.50L392.60 155.50L392.60 155.50L399.23 155.50L399.23 155.50L405.86 155.50L405.86 155.50L412.49 155.50L412.49 155.50L419.12 155.50L419.12 154.60L425.75 154.60L425.75 154.50L432.38 154.50L432.38 153.80L439.01 153.80L439.01 153.80L445.64 153.80L445.64 153.80L452.27 153.80L452.27 153.70L458.90 153.70L458.90 151.70L465.80 151.70L465.80 150.20L472.40 150.20L472.40 147.50L479.10 147.50L479.10 140.90L485.70 140.90L485.70 136.00L492.30 136.00L492.30 120.40L498.90 120.40L498.90 8.85L505.20 8.85L505.20 75.10L512.00 75.10L512.00 132.50L518.70 132.50L518.70 143.60L525.30 143.60L525.30 147.80L531.80 147.80L531.80 151.70L538.30 151.70L538.30 152.60L545.20 152.60L545.20 153.40L551.60 153.40L551.60 153.90L558.70 153.90L558.70 154.40L565.33 154.40L565.33 154.50L571.96 154.50L571.96 154.50L578.59 154.50L578.59 154.60L585.22 154.60L585.22 154.60L591.85 154.60L591.85 154.60L598.48 154.60L598.48 155.50L605.11 155.50L605.11 155.50L611.74 155.50L611.74 155.50L618.37 155.50L618.37 155.50L625.00 155.50L625.00 155.50L631.63 155.50L631.63 155.50L638.26 155.50L638.26 155.50L644.89 155.50L644.89 155.5" stroke="#4677b2" stroke-width="1.6" fill="none" stroke-linejoin="miter"/>
<path d="M833.0 281.80L833.00 281.80L833.00 287.38L833.00 287.38L833.00 292.96L833.00 292.96L833.00 298.54L833.00 298.54L833.00 304.12L833.00 304.12L833.00 309.70L833.00 309.70L833.00 315.28L833.00 315.28L833.00 320.86L833.00 320.86L833.00 326.44L834.50 326.44L834.50 332.02L833.60 332.02L833.60 337.60L835.00 337.60L835.00 343.18L834.30 343.18L834.30 348.76L835.00 348.76L835.00 354.34L838.10 354.34L838.10 359.92L838.60 359.92L838.60 365.50L841.00 365.50L841.00 371.08L846.10 371.08L846.10 376.66L852.60 376.66L852.60 382.24L867.70 382.24L867.70 387.82L911.50 387.82L911.50 393.40L1006.70 393.40L1006.70 398.98L861.00 398.98L861.00 404.56L846.70 404.56L846.70 410.14L842.80 410.14L842.80 415.72L838.60 415.72L838.60 421.30L835.80 421.30L835.80 426.88L835.60 426.88L835.60 432.46L834.30 432.46L834.30 438.04L835.40 438.04L835.40 443.62L834.40 443.62L834.40 449.20L834.40 449.20L834.40 454.78L833.00 454.78L833.00 460.36L833.00 460.36L833.00 465.94L833.00 465.94L833.00 471.52L833.0 471.52" stroke="#4677b2" stroke-width="1.6" fill="none"/>
<rect x="81.5" y="1.6" width="728.70" height="153.90" fill="none" stroke="#000" stroke-width="1.8"/>
<rect x="81.5" y="175.0" width="728.70" height="616.00" fill="none" stroke="#000" stroke-width="1.8"/>
<rect x="833.0" y="175.0" width="182.00" height="616.00" fill="none" stroke="#000" stroke-width="1.8"/>
<path d="M149.10 1.6v7.0M149.10 155.5v-7.0M149.10 175.0v7.0M149.10 791.0v-7.0M267.50 1.6v7.0M267.50 155.5v-7.0M267.50 175.0v7.0M267.50 791.0v-7.0M385.90 1.6v7.0M385.90 155.5v-7.0M385.90 175.0v7.0M385.90 791.0v-7.0M504.30 1.6v7.0M504.30 155.5v-7.0M504.30 175.0v7.0M504.30 791.0v-7.0M622.70 1.6v7.0M622.70 155.5v-7.0M622.70 175.0v7.0M622.70 791.0v-7.0M741.10 1.6v7.0M741.10 155.5v-7.0M741.10 175.0v7.0M741.10 791.0v-7.0M81.5 155.50h7.0M810.2 155.50h-7.0M81.5 25.07h7.0M810.2 25.07h-7.0M81.5 754.95h7.0M810.2 754.95h-7.0M833.0 754.95h7.0M1015.0 754.95h-7.0M81.5 634.95h7.0M810.2 634.95h-7.0M833.0 634.95h7.0M1015.0 634.95h-7.0M81.5 514.95h7.0M810.2 514.95h-7.0M833.0 514.95h7.0M1015.0 514.95h-7.0M81.5 394.95h7.0M810.2 394.95h-7.0M833.0 394.95h7.0M1015.0 394.95h-7.0M81.5 274.95h7.0M810.2 274.95h-7.0M833.0 274.95h7.0M1015.0 274.95h-7.0M833.00 175.0v7.0M833.00 791.0v-7.0M976.10 175.0v7.0M976.10 791.0v-7.0" stroke="#000" stroke-width="1.8" fill="none"/>
<g fill="#000" stroke="#000" stroke-width="0.3" opacity="0.999"><text transform="translate(57.47 285.25) scale(0.9558 1)" font-size="28.28">2</text><text transform="translate(57.53 405.25) scale(0.9916 1)" font-size="28.28">0</text><text transform="translate(35.72 527.21) scale(1.2120 1.0953)" font-size="28.28" stroke="none">−</text><text transform="translate(57.47 525.25) scale(0.9558 1)" font-size="28.28">2</text><text transform="translate(35.72 647.21) scale(1.2120 1.0953)" font-size="28.28" stroke="none">−</text><text transform="translate(57.53 645.25) scale(0.9917 1)" font-size="28.28">4</text><text transform="translate(35.72 767.21) scale(1.2120 1.0953)" font-size="28.28" stroke="none">−</text><text transform="translate(57.26 765.25) scale(1.0263 1)" font-size="28.28">6</text><text transform="translate(6.69 35.37) scale(0.9558 1)" font-size="28.28">2</text><text transform="translate(23.69 35.37) scale(0.9916 1)" font-size="28.28">0</text><text transform="translate(40.61 35.37) scale(0.9916 1)" font-size="28.28">0</text><text transform="translate(57.53 35.37) scale(0.9916 1)" font-size="28.28">0</text><text transform="translate(57.53 165.80) scale(0.9916 1)" font-size="28.28">0</text><text transform="translate(130.62 820.66) scale(1.2120 1.0953)" font-size="28.28" stroke="none">−</text><text transform="translate(152.17 818.70) scale(1.0263 1)" font-size="28.28">6</text><text transform="translate(249.02 820.66) scale(1.2120 1.0953)" font-size="28.28" stroke="none">−</text><text transform="translate(270.84 818.70) scale(0.9917 1)" font-size="28.28">4</text><text transform="translate(367.42 820.66) scale(1.2120 1.0953)" font-size="28.28" stroke="none">−</text><text transform="translate(389.17 818.70) scale(0.9558 1)" font-size="28.28">2</text><text transform="translate(496.50 818.70) scale(0.9916 1)" font-size="28.28">0</text><text transform="translate(614.83 818.70) scale(0.9558 1)" font-size="28.28">2</text><text transform="translate(733.29 818.70) scale(0.9917 1)" font-size="28.28">4</text><text transform="translate(825.20 818.70) scale(0.9916 1)" font-size="28.28">0</text><text transform="translate(942.84 818.70) scale(0.9558 1)" font-size="28.28">2</text><text transform="translate(959.83 818.70) scale(0.9916 1)" font-size="28.28">0</text><text transform="translate(976.76 818.70) scale(0.9916 1)" font-size="28.28">0</text><text transform="translate(993.68 818.70) scale(0.9916 1)" font-size="28.28">0</text><text transform="translate(0 853.80) scale(0.9469 1)" font-size="27.97" x="220.03 238.42 257.29 266.50 282.24 298.99 313.14 324.63 346.25 362.90 379.36 388.75 397.67 416.58 433.34 448.19 456.04 473.84 490.26 508.36 515.80 530.13 538.73 547.69 570.68 579.85 599.83 609.20 619.31 638.30 647.85 663.29 678.20 694.85 712.43" y="0">RA cos(Dec) Residuals, O-C [arcsec]</text><g transform="translate(20.1 663.0) rotate(-90)"><text transform="translate(0 0.00) scale(0.9647 1)" font-size="27.92" x="-2.19 19.04 35.37 50.17 58.71 77.30 93.73 108.35 115.96 133.40 149.47 167.31 174.53 188.62 197.12 205.70 228.34 237.22 256.98 266.08 275.91 294.57 303.90 319.03 333.63 349.95 367.25" y="0">Dec Residuals, O-C [arcsec]</text></g></g>
</svg></body></html>
